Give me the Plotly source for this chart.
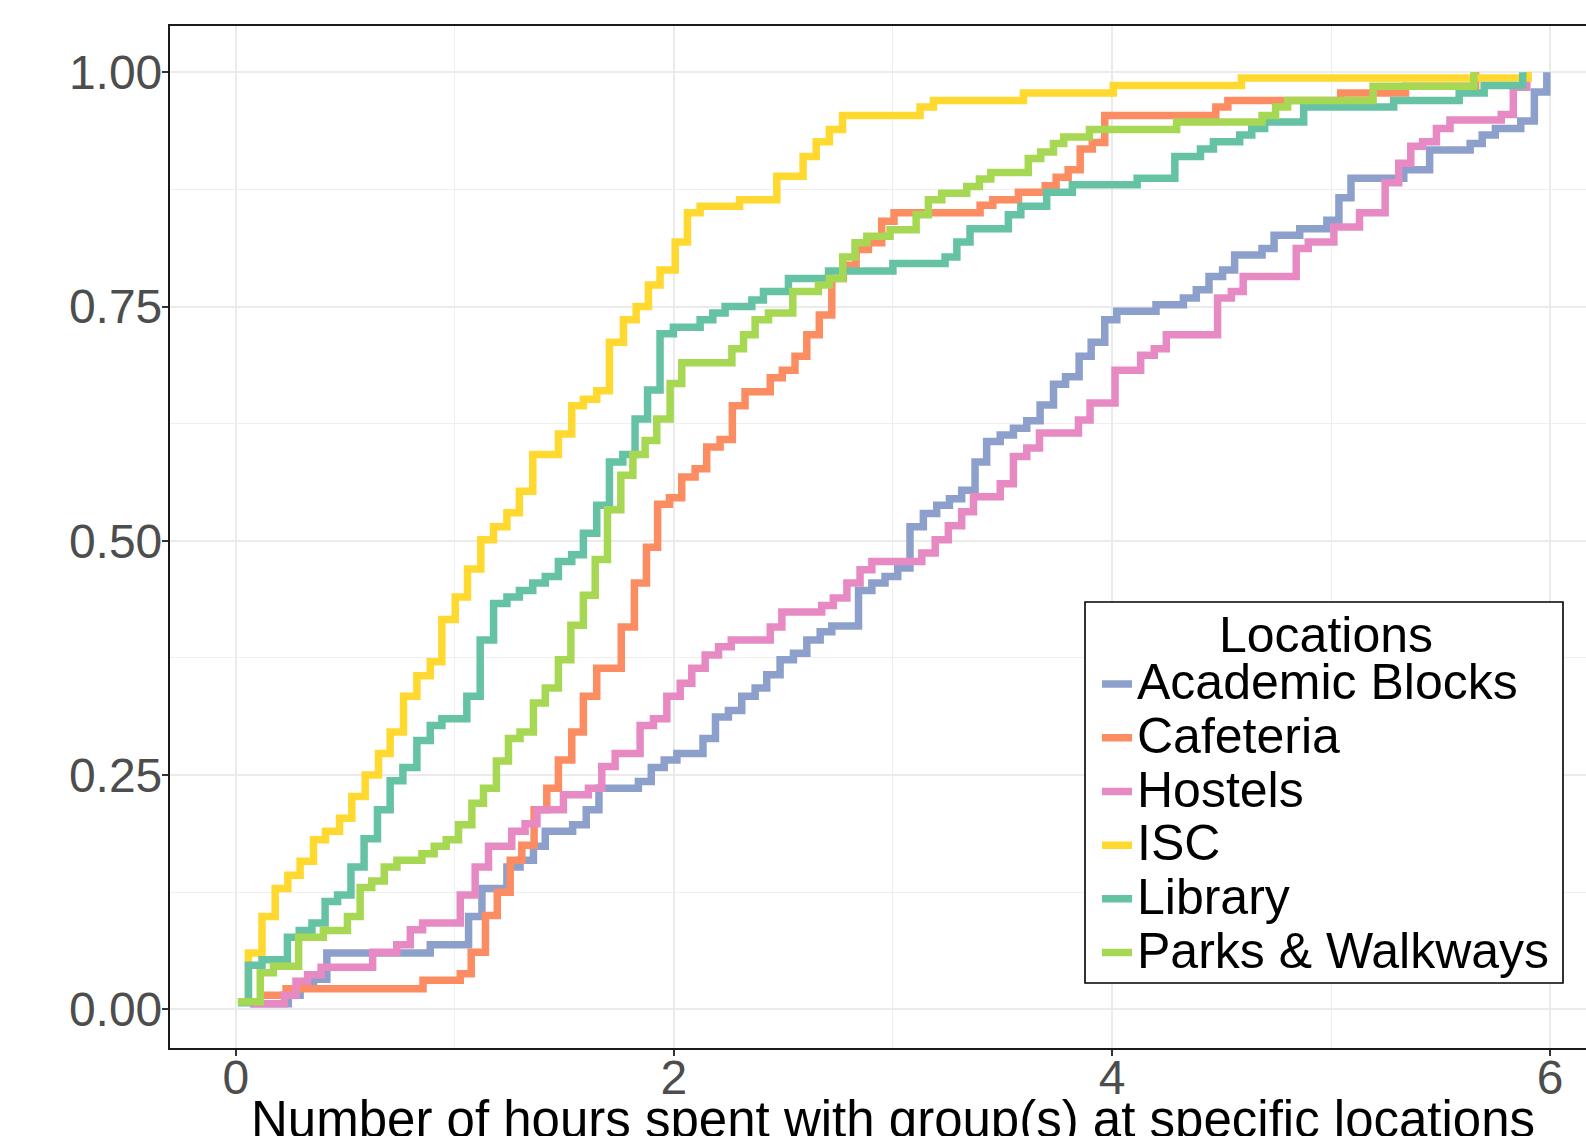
import plotly.graph_objects as go

# ---------------- data (ECDF step points) ----------------
categories = ["Academic Blocks", "Cafeteria", "Hostels", "ISC", "Library", "Parks & Walkways"]
colors = ["#8DA0CB", "#FC8D62", "#E78AC3", "#FFD92F", "#66C2A5", "#A6D854"]

academic_x = [0.066, 0.24, 0.294, 0.355, 0.416, 0.888, 1.063, 1.124, 1.238, 1.298,
              1.359, 1.413, 1.538, 1.6, 1.658, 1.838, 1.897, 1.956, 2.014, 2.133,
              2.19, 2.249, 2.31, 2.371, 2.424, 2.485, 2.546, 2.607, 2.668, 2.721,
              2.843, 2.904, 2.964, 3.022, 3.078, 3.139, 3.2, 3.258, 3.314, 3.375,
              3.428, 3.49, 3.55, 3.611, 3.672, 3.733, 3.788, 3.85, 3.905, 3.967,
              4.022, 4.201, 4.326, 4.385, 4.443, 4.505, 4.56, 4.685, 4.74, 4.857,
              4.981, 5.036, 5.091, 5.332, 5.45, 5.635, 5.69, 5.75, 5.866, 5.928, 5.985]
academic_y = [0.006, 0.015, 0.024, 0.032, 0.06, 0.069, 0.099, 0.129, 0.152, 0.159,
              0.174, 0.19, 0.197, 0.213, 0.236, 0.243, 0.258, 0.266, 0.273, 0.289,
              0.312, 0.319, 0.334, 0.343, 0.357, 0.373, 0.38, 0.394, 0.403, 0.409,
              0.447, 0.455, 0.462, 0.471, 0.515, 0.529, 0.538, 0.545, 0.554, 0.584,
              0.606, 0.613, 0.62, 0.628, 0.645, 0.667, 0.675, 0.697, 0.712, 0.736,
              0.745, 0.752, 0.759, 0.768, 0.782, 0.789, 0.805, 0.812, 0.826, 0.833,
              0.842, 0.866, 0.887, 0.896, 0.917, 0.924, 0.933, 0.94, 0.948, 0.979, 1.0]

cafeteria_x = [0.11, 0.23, 0.855, 1.025, 1.075, 1.14, 1.194, 1.253, 1.306, 1.362,
               1.42, 1.473, 1.534, 1.587, 1.648, 1.76, 1.82, 1.875, 1.926, 1.98,
               2.036, 2.097, 2.15, 2.211, 2.267, 2.325, 2.44, 2.495, 2.553, 2.607,
               2.664, 2.721, 2.774, 2.832, 2.888, 2.949, 3.005, 3.398, 3.456, 3.573,
               3.695, 3.745, 3.8, 3.855, 3.91, 3.967, 4.474, 4.529, 5.044, 5.34, 5.66]
cafeteria_y = [0.015, 0.022, 0.031, 0.038, 0.061, 0.1, 0.125, 0.159, 0.175, 0.213,
               0.236, 0.266, 0.296, 0.334, 0.364, 0.408, 0.455, 0.493, 0.539, 0.546,
               0.568, 0.577, 0.6, 0.608, 0.644, 0.659, 0.674, 0.682, 0.697, 0.72,
               0.741, 0.78, 0.794, 0.811, 0.818, 0.841, 0.85, 0.858, 0.864, 0.872,
               0.879, 0.888, 0.896, 0.918, 0.925, 0.954, 0.963, 0.97, 0.978, 0.985, 1.0]

hostels_x = [0.066, 0.222, 0.275, 0.328, 0.39, 0.625, 0.735, 0.797, 0.853, 1.025,
             1.093, 1.154, 1.26, 1.321, 1.375, 1.496, 1.61, 1.671, 1.732, 1.846,
             1.907, 1.968, 2.029, 2.082, 2.143, 2.204, 2.262, 2.44, 2.493, 2.675,
             2.728, 2.79, 2.85, 2.904, 3.132, 3.193, 3.253, 3.314, 3.368, 3.49,
             3.55, 3.611, 3.669, 3.847, 3.9, 4.014, 4.131, 4.193, 4.248, 4.482,
             4.545, 4.599, 4.841, 4.896, 5.013, 5.13, 5.247, 5.309, 5.364, 5.418,
             5.481, 5.543, 5.777, 5.832, 5.894]
hostels_y = [0.006, 0.015, 0.03, 0.037, 0.045, 0.061, 0.069, 0.085, 0.092, 0.122,
             0.152, 0.174, 0.19, 0.198, 0.213, 0.229, 0.236, 0.259, 0.273, 0.303,
             0.31, 0.334, 0.348, 0.364, 0.378, 0.387, 0.394, 0.408, 0.424, 0.431,
             0.439, 0.455, 0.469, 0.478, 0.487, 0.501, 0.516, 0.531, 0.547, 0.561,
             0.59, 0.599, 0.615, 0.629, 0.647, 0.682, 0.698, 0.705, 0.72, 0.759,
             0.766, 0.782, 0.812, 0.819, 0.835, 0.85, 0.882, 0.903, 0.921, 0.926,
             0.94, 0.949, 0.955, 0.984, 1.0]

isc_x = [0.01, 0.058, 0.12, 0.18, 0.238, 0.294, 0.355, 0.41, 0.474, 0.53,
         0.591, 0.652, 0.705, 0.766, 0.827, 0.888, 0.941, 1.002, 1.058, 1.119,
         1.177, 1.238, 1.295, 1.356, 1.473, 1.534, 1.587, 1.648, 1.706, 1.77,
         1.828, 1.884, 1.937, 2.006, 2.062, 2.12, 2.3, 2.47, 2.59, 2.65,
         2.71, 2.77, 3.124, 3.185, 3.596, 4.006, 4.591, 5.9]
isc_y = [0.008, 0.06, 0.099, 0.129, 0.143, 0.158, 0.181, 0.19, 0.204, 0.227,
         0.25, 0.273, 0.296, 0.334, 0.356, 0.371, 0.416, 0.44, 0.47, 0.501,
         0.515, 0.53, 0.553, 0.592, 0.614, 0.644, 0.651, 0.66, 0.712, 0.736,
         0.75, 0.773, 0.789, 0.819, 0.85, 0.857, 0.864, 0.889, 0.91, 0.926,
         0.939, 0.954, 0.963, 0.97, 0.978, 0.986, 0.994, 1.0]

library_x = [0.01, 0.058, 0.12, 0.236, 0.29, 0.348, 0.408, 0.465, 0.526, 0.586,
             0.647, 0.705, 0.763, 0.827, 0.888, 0.941, 1.055, 1.116, 1.177, 1.238,
             1.295, 1.356, 1.413, 1.473, 1.534, 1.587, 1.648, 1.706, 1.767, 1.823,
             1.88, 1.937, 1.998, 2.12, 2.178, 2.234, 2.356, 2.409, 2.523, 2.706,
             3.0, 3.238, 3.292, 3.352, 3.527, 3.584, 3.702, 3.819, 4.115, 4.287,
             4.404, 4.463, 4.583, 4.638, 4.697, 4.875, 5.286, 5.585, 5.699, 5.875]
library_y = [0.007, 0.047, 0.053, 0.077, 0.084, 0.092, 0.115, 0.122, 0.152, 0.182,
             0.213, 0.244, 0.258, 0.287, 0.303, 0.31, 0.334, 0.394, 0.433, 0.44,
             0.447, 0.455, 0.462, 0.478, 0.485, 0.508, 0.538, 0.584, 0.592, 0.63,
             0.661, 0.721, 0.728, 0.736, 0.743, 0.75, 0.757, 0.766, 0.78, 0.788,
             0.796, 0.803, 0.819, 0.833, 0.848, 0.857, 0.872, 0.88, 0.887, 0.91,
             0.918, 0.926, 0.933, 0.94, 0.947, 0.963, 0.97, 0.978, 0.986, 1.0]

parks_x = [0.01, 0.112, 0.172, 0.287, 0.40, 0.51, 0.568, 0.621, 0.678, 0.736,
           0.85, 0.906, 0.961, 1.017, 1.078, 1.131, 1.19, 1.245, 1.298, 1.359,
           1.413, 1.473, 1.53, 1.587, 1.641, 1.697, 1.758, 1.813, 1.869, 1.922,
           1.983, 2.036, 2.265, 2.318, 2.371, 2.432, 2.543, 2.66, 2.71, 2.771,
           2.827, 2.881, 2.987, 3.106, 3.162, 3.223, 3.337, 3.395, 3.447, 3.618,
           3.675, 3.733, 3.78, 3.897, 4.295, 4.685, 4.747, 4.802, 5.192, 5.652]
parks_y = [0.008, 0.039, 0.046, 0.077, 0.084, 0.099, 0.13, 0.137, 0.152, 0.159,
           0.166, 0.174, 0.181, 0.197, 0.22, 0.236, 0.265, 0.289, 0.296, 0.327,
           0.343, 0.373, 0.41, 0.442, 0.48, 0.533, 0.57, 0.592, 0.607, 0.63,
           0.668, 0.69, 0.705, 0.72, 0.736, 0.743, 0.766, 0.773, 0.78, 0.803,
           0.818, 0.825, 0.832, 0.848, 0.864, 0.871, 0.878, 0.886, 0.893, 0.908,
           0.915, 0.924, 0.931, 0.939, 0.947, 0.954, 0.963, 0.97, 0.985, 1.0]

x_ticks = [0, 2, 4, 6]
y_ticks = [0.0, 0.25, 0.5, 0.75, 1.0]
y_tick_labels = ["0.00", "0.25", "0.50", "0.75", "1.00"]
x_title = "Number of hours spent with group(s) at specific locations"
legend_title = "Locations"

series = [
    (academic_x, academic_y),
    (cafeteria_x, cafeteria_y),
    (hostels_x, hostels_y),
    (isc_x, isc_y),
    (library_x, library_y),
    (parks_x, parks_y),
]

# ---------------- figure ----------------
W, H = 1586, 1136
L, T, B = 170, 26, 88
FONT = "Liberation Sans, Arial, Helvetica, sans-serif"
LEG_TXT = 50

fig = go.Figure()
for name, col, (xs, ys) in zip(categories, colors, series):
    fig.add_trace(go.Scatter(
        x=xs, y=ys, mode="lines", line_shape="hv",
        line=dict(color=col, width=7.5),
        name='<span style="font-size:%dpx">%s</span>' % (LEG_TXT, name),
    ))

def px_to_paper_y(py):
    return (H - B - py) / (H - B - T)

def px_to_paper_x(px):
    return (px - L) / (W - L)

fig.update_layout(
    width=W, height=H,
    margin=dict(l=L, r=0, t=T, b=B, pad=0),
    paper_bgcolor="white", plot_bgcolor="white",
    font=dict(family=FONT, color="black"),
    showlegend=True,
    legend=dict(
        x=px_to_paper_x(1097), xanchor="left",
        y=px_to_paper_y(601.5), yanchor="top",
        bgcolor="rgba(0,0,0,0)", borderwidth=0,
        font=dict(family=FONT, size=39, color="black"),
        title=dict(text='<span style="font-size:%dpx">%s</span>' % (LEG_TXT, legend_title),
                   side="top center",
                   font=dict(family=FONT, size=39, color="black")),
        itemwidth=30,
    ),
    shapes=[dict(
        type="rect", xref="paper", yref="paper",
        x0=px_to_paper_x(1085), x1=px_to_paper_x(1563),
        y0=px_to_paper_y(983), y1=px_to_paper_y(602),
        line=dict(color="black", width=1.6), fillcolor="white", layer="above",
    )],
    annotations=[dict(
        text=x_title, xref="paper", yref="paper",
        x=px_to_paper_x(893), y=px_to_paper_y(1089),
        xanchor="center", yanchor="top", showarrow=False,
        font=dict(family=FONT, size=51, color="black"),
    )],
)

fig.update_xaxes(
    range=[-0.3, (W - 235.5) / 219.1],
    tickmode="array", tickvals=x_ticks, ticktext=[str(v) for v in x_ticks],
    ticks="outside", ticklen=6, tickwidth=2, tickcolor="#333333",
    tickfont=dict(family=FONT, size=48, color="#4D4D4D"),
    ticklabelstandoff=-20,
    showgrid=True, gridcolor="#EBEBEB", gridwidth=1.6,
    minor=dict(tickvals=[1, 3, 5], showgrid=True, gridcolor="#EFEFEF", gridwidth=0.9, ticks=""),
    showline=True, linecolor="#1A1A1A", linewidth=2.2, mirror=True,
    zeroline=False,
)
fig.update_yaxes(
    range=[-0.0413, 1.0494],
    tickmode="array", tickvals=y_ticks, ticktext=y_tick_labels,
    ticks="outside", ticklen=6, tickwidth=2, tickcolor="#333333",
    tickfont=dict(family=FONT, size=48, color="#4D4D4D"),
    ticklabelstandoff=-10,
    showgrid=True, gridcolor="#EBEBEB", gridwidth=1.6,
    minor=dict(tickvals=[0.125, 0.375, 0.625, 0.875], showgrid=True, gridcolor="#EFEFEF", gridwidth=0.9, ticks=""),
    showline=True, linecolor="#1A1A1A", linewidth=2.2, mirror=False,
    zeroline=False,
)

fig.write_html(
    "out.html",
    config={"displayModeBar": False},
    post_script="document.body.style.margin='0px';document.body.style.overflow='hidden';",
)
